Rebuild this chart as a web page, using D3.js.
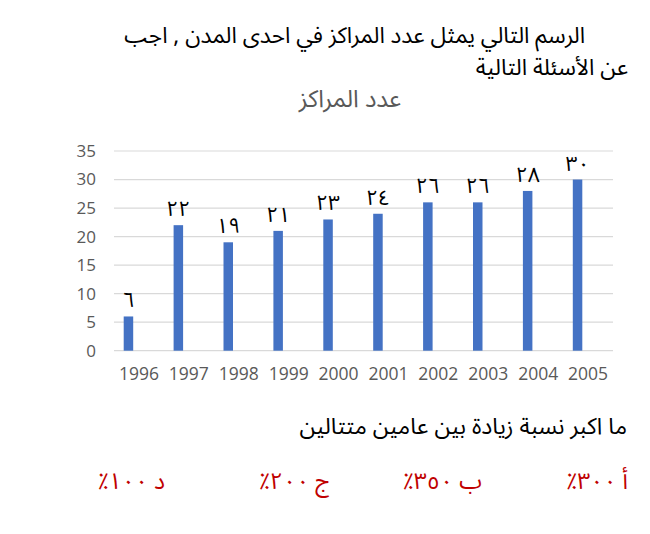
<!DOCTYPE html>
<html>
<head>
<meta charset="utf-8">
<script src="https://cdn.jsdelivr.net/npm/d3@7/dist/d3.min.js"></script>
<style>
  html, body { margin: 0; padding: 0; background: #fff; }
  svg { display: block; }
</style>
</head>
<body>
<svg id="chart" width="650" height="534"></svg>
<script>
// ---- data ----
const years = ["1996","1997","1998","1999","2000","2001","2002","2003","2004","2005"];
const centers = [6, 22, 19, 21, 23, 24, 26, 26, 28, 30];
const valueLabels = ["٦","٢٢","١٩","٢١","٢٣","٢٤","٢٦","٢٦","٢٨","٣٠"];
const yTicks = [0, 5, 10, 15, 20, 25, 30, 35];
const headingLines = ["الرسم التالي يمثل عدد المراكز في احدى المدن , اجب", "عن الأسئلة التالية"];
const chartTitle = "عدد المراكز";
const question = "ما اكبر نسبة زيادة بين عامين متتالين";
const choices = ["أ ٣٠٠٪", "ب ٣٥٠٪", "ج ٢٠٠٪", "د ١٠٠٪"];

// ---- layout ----
const svg = d3.select("#chart");
const plot = { left: 114, right: 613, top: 151, bottom: 350.7 };
const arabicFont = "'Noto Sans Arabic','DejaVu Sans',sans-serif";
const latinFont = "'Open Sans','Liberation Sans',sans-serif";

const x = d3.scaleBand().domain(years).range([plot.left, plot.right]);
const y = d3.scaleLinear().domain([0, 35]).range([plot.bottom, plot.top]);
const barW = 9.5, barOffset = -10.5;

// gridlines
svg.append("g").selectAll("line").data(yTicks).join("line")
  .attr("x1", plot.left).attr("x2", plot.right)
  .attr("y1", d => y(d)).attr("y2", d => y(d))
  .attr("stroke", "#d9d9d9").attr("stroke-width", 1.2);

// y axis labels
const yAxis = d3.axisLeft(y).tickValues(yTicks).tickSize(0).tickPadding(0);
const gy = svg.append("g").attr("transform", `translate(${plot.left - 18},0)`).call(yAxis);
gy.select(".domain").remove();
gy.selectAll("text").attr("font-family", latinFont).attr("font-size", 17).attr("fill", "#595959");

// x axis labels
const xAxis = d3.axisBottom(x).tickSize(0).tickPadding(0);
const gx = svg.append("g").attr("transform", `translate(0,${plot.bottom + 17})`).call(xAxis);
gx.select(".domain").remove();
gx.selectAll("text").attr("font-family", latinFont).attr("font-size", 17.5).attr("fill", "#595959");

// bars
svg.append("g").selectAll("rect").data(centers).join("rect")
  .attr("x", (d, i) => x(years[i]) + x.bandwidth() / 2 + barOffset - barW / 2)
  .attr("width", barW)
  .attr("y", d => y(d))
  .attr("height", d => y(0) - y(d))
  .attr("fill", "#4472c4");

// data labels
svg.append("g").selectAll("text").data(centers).join("text")
  .attr("x", (d, i) => x(years[i]) + x.bandwidth() / 2 + barOffset)
  .attr("y", d => y(d) - 9)
  .attr("text-anchor", "middle")
  .attr("font-family", arabicFont).attr("font-size", 21).attr("fill", "#000")
  .text((d, i) => valueLabels[i]);

// heading text
const rtlText = (txt, xr, yb, size, color) => svg.append("text")
  .attr("x", xr).attr("y", yb)
  .attr("direction", "rtl").attr("text-anchor", "start")
  .attr("font-family", arabicFont).attr("font-size", size).attr("fill", color)
  .text(txt);

rtlText(headingLines[0], 585, 42.5, 22.5, "#000");
rtlText(headingLines[1], 628, 74.5, 22.5, "#000");

svg.append("text").attr("x", 350).attr("y", 107).attr("text-anchor", "middle")
  .attr("direction", "rtl")
  .attr("font-family", arabicFont).attr("font-size", 24).attr("fill", "#595959")
  .text(chartTitle);

rtlText(question, 627, 434, 23, "#000");

const choiceRight = [628, 482, 330, 165];
choices.forEach((c, i) => rtlText(c, choiceRight[i], 489, 23, "#c00000"));
</script>
</body>
</html>
